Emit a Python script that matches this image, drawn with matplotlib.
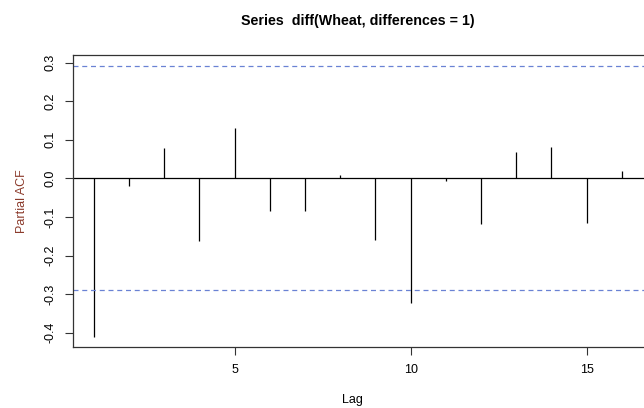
import matplotlib
matplotlib.use("Agg")
import matplotlib.pyplot as plt

lags = list(range(1, 17))
pacf = [-0.410, -0.021, 0.080, -0.161, 0.130, -0.084, -0.085, 0.008,
        -0.159, -0.322, -0.007, -0.117, 0.068, 0.081, -0.115, 0.019]
ci = 0.290
yticks = [-0.4, -0.3, -0.2, -0.1, 0.0, 0.1, 0.2, 0.3]
xticks = [5, 10, 15]
title = "Series  diff(Wheat, differences = 1)"

plt.rcParams['font.family'] = ['Liberation Sans', 'DejaVu Sans']
W, H = 644, 408
fig = plt.figure(figsize=(W/100, H/100), dpi=100)
left_px, right_px, top_px, bot_px = 72.7, 646.0, 55.3, 347.0
ax = fig.add_axes([left_px/W, 1 - bot_px/H, (right_px-left_px)/W, (bot_px-top_px)/H])

ax.vlines(lags, 0, pacf, color='black', linewidth=0.9)
ax.axhline(0, color='black', linewidth=0.9)
ax.axhline(ci, color='#6a82d4', linestyle=(0, (4, 3)), linewidth=0.9)
ax.axhline(-ci, color='#6a82d4', linestyle=(0, (4, 3)), linewidth=0.9)

ax.set_xlim(0.4, 0.4 + (right_px-left_px)/35.2)
ax.set_ylim(-0.437, 0.319)
ax.set_yticks(yticks)
ax.set_yticklabels([f"{v:.1f}" for v in yticks], rotation=90, va='center', fontsize=9)
ax.set_xticks(xticks)
ax.set_xticklabels([str(v) for v in xticks], fontsize=9)
ax.tick_params(direction='out', length=6, width=0.8, color='#333333', pad=6)
for s in ['left', 'top', 'bottom']:
    ax.spines[s].set_linewidth(0.9)
    ax.spines[s].set_color('#333333')
ax.spines['right'].set_visible(False)

fig.text(22/W, 1 - 201/H, "Partial ACF", rotation=90, ha='center', va='center',
         fontsize=9, color='#8b3a2b')
fig.text(352/W, 1 - 400/H, "Lag", ha='center', va='center', fontsize=9)
fig.text(357.5/W, 1 - 21/H, title, ha='center', va='center', fontsize=10.3,
         fontweight='bold')

fig.savefig("out.png", dpi=100)
